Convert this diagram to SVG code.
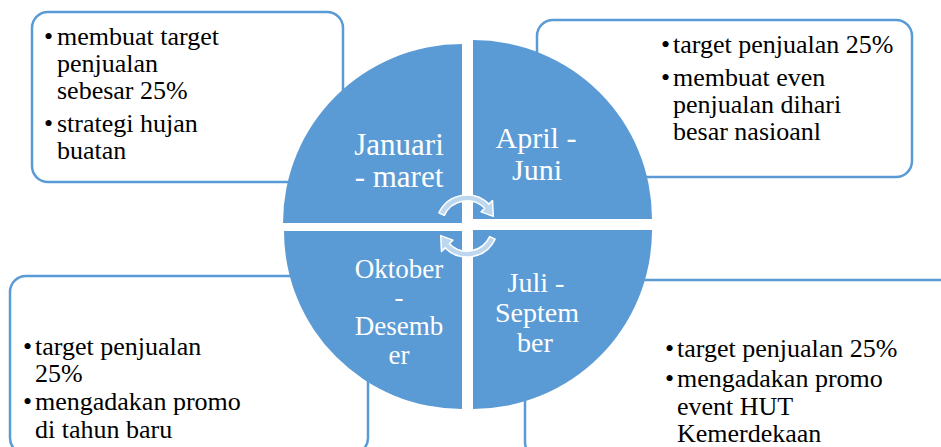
<svg xmlns="http://www.w3.org/2000/svg" width="941" height="447" viewBox="0 0 941 447">
  <style>
    .box { fill: #ffffff; stroke: #5B9BD5; stroke-width: 2.5; }
    .quad { fill: #5B9BD5; }
    .body { font-family: "Liberation Serif", "Times New Roman", serif; font-size: 26px; fill: #000000; }
    .lbl { font-family: "Liberation Serif", "Times New Roman", serif; fill: #ffffff; text-anchor: middle; }
    .arw { fill: #BDD7EE; stroke: #ffffff; stroke-width: 1.5; stroke-linejoin: round; }
  </style>
  <defs>
    <path id="cyc" class="arw" d="M 438.9 212.9 A 31 31 0 0 1 488.9 204.1 L 492.5 200.5 L 493.3 216.4 L 481.1 211.9 L 484.7 208.3 A 25 25 0 0 0 444.3 215.4 Z"/>
  </defs>

  <g id="box-januari">
    <rect class="box" x="32" y="12" width="311" height="170" rx="16"/>
    <text class="body"><tspan x="44" y="45">•</tspan><tspan x="57" y="45">membuat target</tspan></text>
    <text class="body" x="57" y="72">penjualan</text>
    <text class="body" x="57" y="99">sebesar 25%</text>
    <text class="body"><tspan x="44" y="132">•</tspan><tspan x="57" y="132">strategi hujan</tspan></text>
    <text class="body" x="57" y="159">buatan</text>
  </g>

  <g id="box-april">
    <rect class="box" x="537" y="20" width="375" height="157" rx="16"/>
    <text class="body"><tspan x="661" y="53">•</tspan><tspan x="673" y="53">target penjualan 25%</tspan></text>
    <text class="body"><tspan x="661" y="86">•</tspan><tspan x="673" y="86">membuat even</tspan></text>
    <text class="body" x="673" y="113">penjualan dihari</text>
    <text class="body" x="673" y="140">besar nasioanl</text>
  </g>

  <g id="box-oktober">
    <rect class="box" x="10" y="276" width="358" height="178" rx="16"/>
    <text class="body"><tspan x="23" y="355">•</tspan><tspan x="35" y="355">target penjualan</tspan></text>
    <text class="body" x="35" y="382">25%</text>
    <text class="body"><tspan x="23" y="410">•</tspan><tspan x="35" y="410">mengadakan promo</tspan></text>
    <text class="body" x="35" y="438">di tahun baru</text>
  </g>

  <g id="box-juli">
    <rect class="box" x="525" y="280" width="440" height="178" rx="16"/>
    <text class="body"><tspan x="665" y="357">•</tspan><tspan x="677" y="357">target penjualan 25%</tspan></text>
    <text class="body"><tspan x="665" y="387">•</tspan><tspan x="677" y="387">mengadakan promo</tspan></text>
    <text class="body" x="677" y="415">event HUT</text>
    <text class="body" x="677" y="442">Kemerdekaan</text>
  </g>

  <g id="q-januari">
    <path class="quad" d="M 462 223 L 283 223 A 179 179 0 0 1 462 44 Z"/>
    <text class="lbl" font-size="31" x="399" y="155">Januari</text>
    <text class="lbl" font-size="31" x="399" y="187">- maret</text>
  </g>
  <g id="q-april">
    <path class="quad" d="M 473 219 L 473 40 A 179 179 0 0 1 652 219 Z"/>
    <text class="lbl" font-size="30" x="536" y="148">April -</text>
    <text class="lbl" font-size="30" x="537" y="180">Juni</text>
  </g>
  <g id="q-oktober">
    <path class="quad" d="M 462 231 L 462 409 A 178 178 0 0 1 284 231 Z"/>
    <text class="lbl" font-size="27" x="399" y="278">Oktober</text>
    <text class="lbl" font-size="27" x="399" y="306">-</text>
    <text class="lbl" font-size="27" x="399" y="335">Desemb</text>
    <text class="lbl" font-size="27" x="399" y="364">er</text>
  </g>
  <g id="q-juli">
    <path class="quad" d="M 473 230 L 652 230 A 179 179 0 0 1 473 409 Z"/>
    <text class="lbl" font-size="28" x="536" y="292">Juli -</text>
    <text class="lbl" font-size="28" x="537" y="322">Septem</text>
    <text class="lbl" font-size="28" x="535" y="352">ber</text>
  </g>

  <g id="connectors">
    <use href="#cyc"/>
    <use href="#cyc" transform="rotate(180 467 226)"/>
  </g>
</svg>
